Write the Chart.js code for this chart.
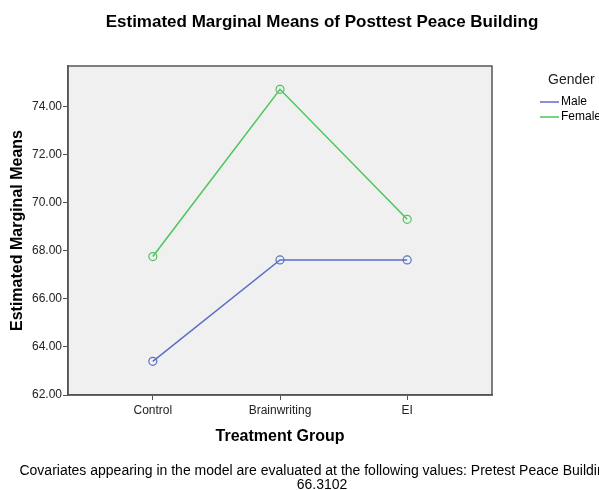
<!DOCTYPE html>
<html>
<head>
<meta charset="utf-8">
<script src="https://cdn.jsdelivr.net/npm/chart.js@4/dist/chart.umd.min.js"></script>
<style>
  html, body { margin: 0; padding: 0; background: #fff; }
  #wrap { width: 599px; height: 490px; }
</style>
</head>
<body>
<div id="wrap"><canvas id="emmChart" width="599" height="490"></canvas></div>
<script>
const groups = ['Control', 'Brainwriting', 'EI'];
const maleMeans = [63.40, 67.62, 67.62];
const femaleMeans = [67.76, 74.72, 69.31];
const yTicks = [62, 64, 66, 68, 70, 72, 74];

const FONT = 'Arial, "Liberation Sans", sans-serif';
const maleColor = '#5b6fc6';
const femaleColor = '#4cc55c';

function toPoints(vals) {
  return vals.map((v, i) => ({ x: i, y: v }));
}

// frame, title, legend and footnote drawn around the plot (SPSS style)
const spssDecor = {
  id: 'spssDecor',
  beforeDraw(chart) {
    const { ctx, chartArea: a } = chart;
    ctx.save();
    ctx.fillStyle = '#f0f0f0';
    ctx.fillRect(a.left, a.top, a.right - a.left, a.bottom - a.top);
    ctx.restore();
  },
  afterDraw(chart) {
    const { ctx, chartArea: a } = chart;
    ctx.save();
    ctx.strokeStyle = '#555';
    ctx.lineWidth = 1.5;
    ctx.strokeRect(a.left, a.top, a.right - a.left, a.bottom - a.top);

    ctx.fillStyle = '#000';
    ctx.textAlign = 'center';
    ctx.textBaseline = 'middle';
    ctx.font = 'bold 17px ' + FONT;
    ctx.fillText('Estimated Marginal Means of Posttest Peace Building', 322, 22);

    ctx.font = '14px ' + FONT;
    ctx.fillText('Covariates appearing in the model are evaluated at the following values: Pretest Peace Building =', 322, 471);
    ctx.fillText('66.3102', 322, 485);

    // legend
    ctx.font = '14px ' + FONT;
    ctx.fillStyle = '#222';
    ctx.textAlign = 'left';
    ctx.fillText('Gender', 548, 80);
    ctx.font = '12px ' + FONT;
    chart.data.datasets.forEach((ds, i) => {
      const y = 102 + i * 15;
      ctx.strokeStyle = ds.borderColor;
      ctx.lineWidth = 1.5;
      ctx.beginPath();
      ctx.moveTo(540, y);
      ctx.lineTo(559, y);
      ctx.stroke();
      ctx.fillStyle = '#000';
      ctx.fillText(ds.label, 561, y);
    });
    ctx.restore();
  }
};

new Chart(document.getElementById('emmChart'), {
  type: 'line',
  data: {
    datasets: [{
      label: 'Male',
      data: toPoints(maleMeans),
      borderColor: maleColor,
      backgroundColor: 'transparent',
      borderWidth: 1.5,
      pointRadius: 4,
      pointBorderWidth: 1.2,
      pointBackgroundColor: 'transparent',
      pointBorderColor: maleColor
    }, {
      label: 'Female',
      data: toPoints(femaleMeans),
      borderColor: femaleColor,
      backgroundColor: 'transparent',
      borderWidth: 1.5,
      pointRadius: 4,
      pointBorderWidth: 1.2,
      pointBackgroundColor: 'transparent',
      pointBorderColor: femaleColor
    }]
  },
  options: {
    responsive: false,
    animation: false,
    layout: { padding: { top: 66, right: 107, bottom: 40, left: 0 } },
    plugins: {
      legend: { display: false },
      title: { display: false },
      tooltip: { enabled: false }
    },
    scales: {
      x: {
        type: 'linear',
        min: -0.667,
        max: 2.667,
        afterBuildTicks: s => { s.ticks = groups.map((g, i) => ({ value: i })); },
        afterFit: s => { s.height = 55; },
        ticks: {
          callback: v => groups[v],
          font: { family: FONT, size: 12 },
          color: '#222',
          padding: 3
        },
        grid: { drawOnChartArea: false, tickLength: 5, tickColor: '#555' },
        border: { color: '#555', width: 1.5 },
        title: {
          display: true,
          text: 'Treatment Group',
          font: { family: FONT, size: 16, weight: 'bold' },
          color: '#000'
        }
      },
      y: {
        min: 62,
        max: 75.69,
        afterBuildTicks: s => { s.ticks = yTicks.map(v => ({ value: v })); },
        afterFit: s => { s.width = 68; },
        ticks: {
          callback: v => v.toFixed(2),
          font: { family: FONT, size: 12 },
          color: '#222',
          padding: 1
        },
        grid: { drawOnChartArea: false, tickLength: 5, tickColor: '#555' },
        border: { color: '#555', width: 1.5 },
        title: {
          display: true,
          text: 'Estimated Marginal Means',
          font: { family: FONT, size: 16, weight: 'bold' },
          color: '#000',
          padding: { top: 8, bottom: 4 }
        }
      }
    }
  },
  plugins: [spssDecor]
});
</script>
</body>
</html>
